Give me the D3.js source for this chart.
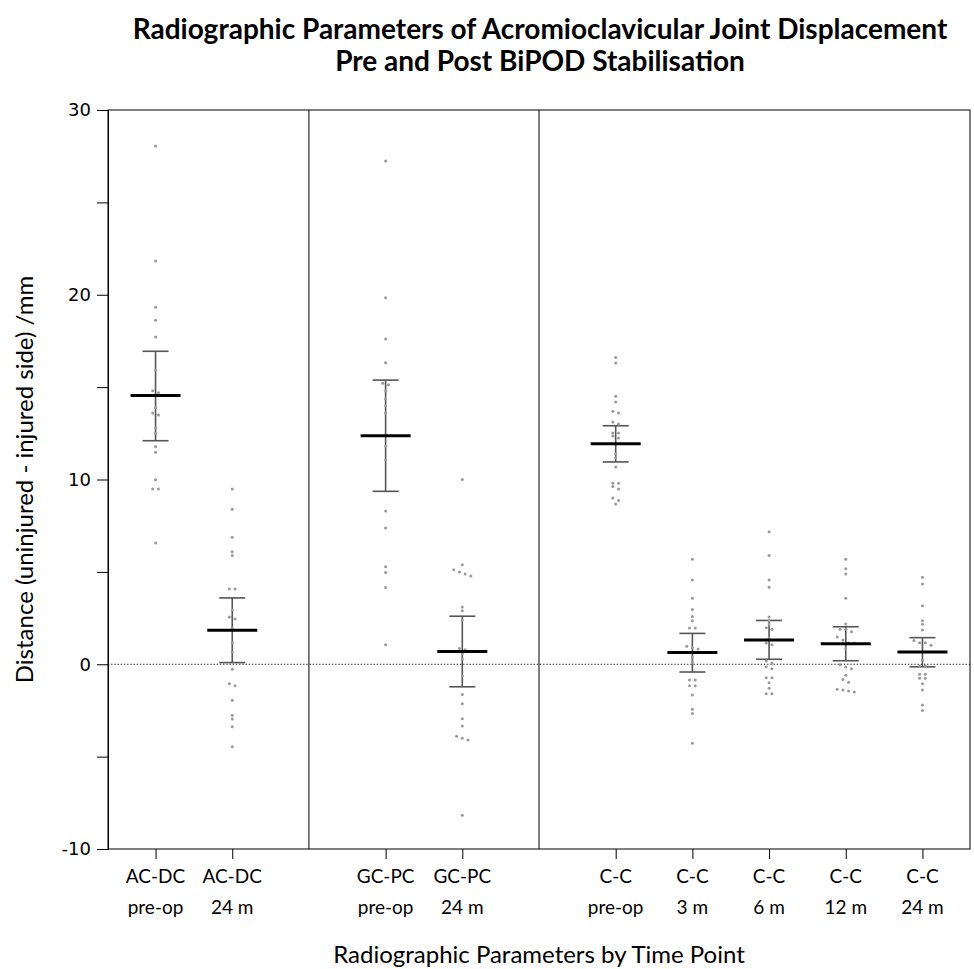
<!DOCTYPE html>
<html><head><meta charset="utf-8">
<script src="https://cdn.jsdelivr.net/npm/d3@7"></script>
<style>body{margin:0;background:#fff}</style>
</head><body><svg id="c" width="974" height="969"></svg>
<script>
// ---------- data ----------
const categories = ["AC-DC pre-op","AC-DC 24 m","GC-PC pre-op","GC-PC 24 m","C-C pre-op","C-C 3 m","C-C 6 m","C-C 12 m","C-C 24 m"];
const slots = ["AC-DC pre-op","AC-DC 24 m","gap1","GC-PC pre-op","GC-PC 24 m","gap2","C-C pre-op","C-C 3 m","C-C 6 m","C-C 12 m","C-C 24 m"];
const separators = ["gap1","gap2"];
const labelLine1 = ["AC-DC","AC-DC","GC-PC","GC-PC","C-C","C-C","C-C","C-C","C-C"];
const labelLine2 = ["pre-op","24 m","pre-op","24 m","pre-op","3 m","6 m","12 m","24 m"];

const acdcPre = [28.05,21.83,19.32,18.62,17.71,15.93,14.81,14.70,13.89,13.60,13.49,12.80,12.49,11.79,11.48,9.99,9.49,9.49,6.56];
const acdc24  = [9.49,8.39,6.87,6.09,5.88,4.07,4.07,2.94,2.56,2.45,1.96,1.17,0.65,-0.27,-1.05,-1.16,-1.95,-2.76,-2.96,-3.38,-4.46];
const gcpcPre = [27.24,19.84,17.6,16.32,15.21,15.13,14.8,14.37,13.98,13.6,12.37,11.8,11.07,8.29,7.37,5.28,4.97,4.16,1.06];
const gcpc24  = [10.0,5.38,5.11,5.0,4.89,4.78,3.1,2.89,2.39,0.85,0.78,0.58,0.29,-0.62,-1.64,-2.14,-2.95,-3.34,-3.9,-4.0,-4.1,-8.17];
const ccPre   = [16.61,16.3,14.5,14.19,13.69,13.6,13.11,13.0,12.52,12.52,12.35,12.25,11.4,11.18,10.68,9.8,9.8,9.62,9.49,9.0,8.87,8.67];
const cc3     = [5.68,4.56,3.57,2.96,2.58,2.36,1.96,1.96,0.98,0.89,0.82,0.37,0.12,-0.85,-0.85,-1.16,-1.16,-1.66,-2.44,-2.66,-4.27];
const cc6     = [7.17,5.88,4.56,4.17,2.56,2.36,2.18,1.98,1.89,1.42,1.15,1.06,0.18,0.07,-0.14,-0.25,-0.73,-0.73,-1.0,-1.3,-1.6,-1.6];
const cc12    = [5.68,5.17,4.88,3.57,2.18,1.9,1.9,1.76,1.47,1.31,1.15,1.15,0.84,-0.03,-0.15,-0.24,-0.6,-0.83,-0.97,-1.35,-1.4,-1.45,-1.5];
const cc24    = [4.71,4.34,3.17,2.36,2.16,1.85,1.28,1.17,1.17,1.03,0.22,-0.1,-0.1,-0.54,-0.54,-0.76,-0.76,-1.05,-1.4,-2.2,-2.5];
const seriesValues = [acdcPre,acdc24,gcpcPre,gcpc24,ccPre,cc3,cc6,cc12,cc24];

const means  = [14.54,1.84,12.37,0.69,11.94,0.64,1.31,1.11,0.66];
const ciLow  = [12.10,0.09,9.36,-1.22,10.95,-0.42,0.27,0.19,-0.14];
const ciHigh = [16.94,3.59,15.38,2.60,12.91,1.67,2.37,2.03,1.44];

const yMajorTicks = [-10,0,10,20,30];
const yMajorLabels = ["-10","0","10","20","30"];
const yMinorTicks = [-5,5,15,25];
const yDomain = [-10,30];

const title1 = "Radiographic Parameters of Acromioclavicular Joint Displacement";
const title2 = "Pre and Post BiPOD Stabilisation";
const yTitle = "Distance (uninjured - injured side) /mm";
const xTitle = "Radiographic Parameters by Time Point";

// ---------- layout ----------
const L = 108, R = 970, T = 110, B = 849;
const svg = d3.select("#c");
const x = d3.scalePoint().domain(slots).range([L, R]).padding(0.62);
const y = d3.scaleLinear().domain(yDomain).range([B, T]);
const labelFont = "Lato, 'Open Sans', sans-serif";

// frame
svg.append("rect").attr("x", L).attr("y", T).attr("width", R - L).attr("height", B - T)
  .attr("fill", "none").attr("stroke", "#000").attr("stroke-width", 1);

// separators
separators.forEach(s => {
  svg.append("line").attr("x1", x(s)).attr("x2", x(s)).attr("y1", T).attr("y2", B)
    .attr("stroke", "#000").attr("stroke-width", 1);
});

// zero line
svg.append("line").attr("x1", L).attr("x2", R).attr("y1", y(0)).attr("y2", y(0))
  .attr("stroke", "#000").attr("stroke-width", 1).attr("stroke-dasharray", "1.2,2");

// y axis
const yAxis = d3.axisLeft(y).tickValues(yMajorTicks).tickSize(11).tickPadding(6)
  .tickFormat(d => yMajorLabels[yMajorTicks.indexOf(d)]);
const ga = svg.append("g").attr("transform", `translate(${L},0)`).call(yAxis);
ga.select(".domain").attr("stroke", "#000");
ga.selectAll(".tick text").attr("font-family", "'DejaVu Sans', Verdana, sans-serif").attr("font-size", 18).attr("fill", "#000");
const yMinor = d3.axisLeft(y).tickValues(yMinorTicks).tickSize(11).tickFormat("");
const gm = svg.append("g").attr("transform", `translate(${L},0)`).call(yMinor);
gm.select(".domain").remove();

// x axis ticks
const gx = svg.append("g").attr("transform", `translate(0,${B})`)
  .call(d3.axisBottom(x).tickValues(categories).tickSize(10).tickFormat(""));
gx.select(".domain").remove();
categories.forEach((c, i) => {
  const t = svg.append("text").attr("x", x(c)).attr("text-anchor", "middle")
    .attr("font-family", labelFont).attr("font-size", 19).attr("fill", "#000");
  t.append("tspan").attr("x", x(c)).attr("y", 883).text(labelLine1[i]);
  t.append("tspan").attr("x", x(c)).attr("y", 914).text(labelLine2[i]);
});

// error bars
const capW = 13, meanW = 25;
categories.forEach((c, i) => {
  const cx = x(c);
  const g = svg.append("g");
  g.append("line").attr("x1", cx).attr("x2", cx).attr("y1", y(ciLow[i])).attr("y2", y(ciHigh[i]))
    .attr("stroke", "#555").attr("stroke-width", 1.6);
  [ciLow[i], ciHigh[i]].forEach(v => {
    g.append("line").attr("x1", cx - capW).attr("x2", cx + capW).attr("y1", y(v)).attr("y2", y(v))
      .attr("stroke", "#555").attr("stroke-width", 1.6);
  });
});

// points with small horizontal offset for overlapping values
categories.forEach((c, i) => {
  const cx = x(c);
  const vals = seriesValues[i].slice().sort((a, b) => b - a);
  const clusters = [];
  vals.forEach(v => {
    const last = clusters[clusters.length - 1];
    if (last && Math.abs(y(last[last.length - 1]) - y(v)) < 3) last.push(v);
    else clusters.push([v]);
  });
  const pts = [];
  clusters.forEach(cl => cl.forEach((v, k) => pts.push({v, dx: (k - (cl.length - 1) / 2) * 5.7})));
  svg.append("g").selectAll("circle").data(pts).join("circle")
    .attr("cx", d => cx + d.dx).attr("cy", d => y(d.v)).attr("r", 1.5)
    .attr("fill", "#999");
});

// mean lines
categories.forEach((c, i) => {
  const cx = x(c);
  svg.append("line").attr("x1", cx - meanW).attr("x2", cx + meanW).attr("y1", y(means[i])).attr("y2", y(means[i]))
    .attr("stroke", "#000").attr("stroke-width", 3);
});

// titles
svg.append("text").attr("x", 540).attr("y", 39).attr("text-anchor", "middle")
  .attr("font-family", labelFont).attr("font-weight", "bold").attr("font-size", 28).text(title1);
svg.append("text").attr("x", 540).attr("y", 71).attr("text-anchor", "middle")
  .attr("font-family", labelFont).attr("font-weight", "bold").attr("font-size", 28).text(title2);

svg.append("text").attr("transform", `translate(33,${(T + B) / 2}) rotate(-90)`).attr("text-anchor", "middle")
  .attr("font-family", labelFont).attr("font-size", 24).text(yTitle);
svg.append("text").attr("x", (L + R) / 2).attr("y", 963).attr("text-anchor", "middle")
  .attr("font-family", labelFont).attr("font-size", 24).text(xTitle);
</script>
</body></html>
